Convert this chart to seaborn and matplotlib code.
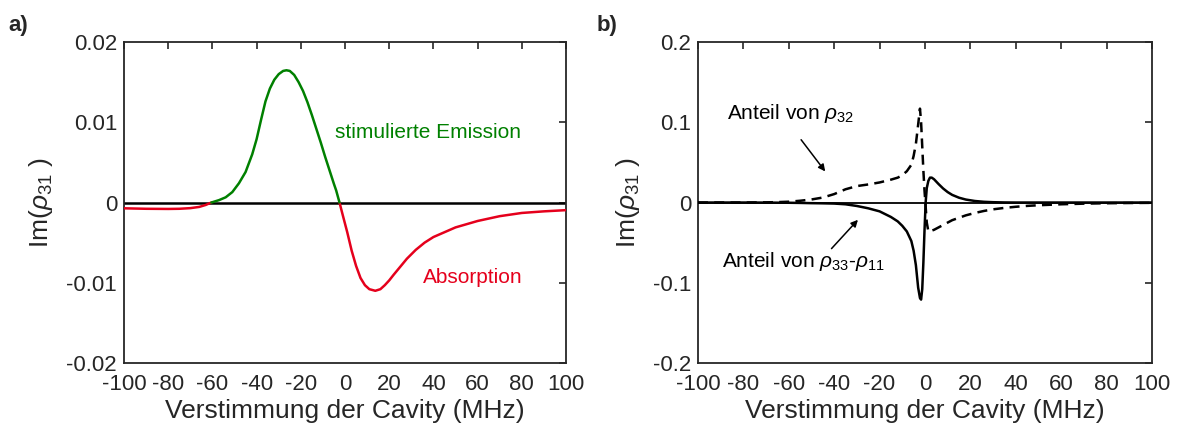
import numpy as np
import pandas as pd
import matplotlib
matplotlib.use("Agg")
import matplotlib.pyplot as plt
import seaborn as sns

# ---------------- data ----------------
# panel a) Im(rho_31) vs. cavity detuning
det_a = [-100, -90, -80, -75, -70, -66, -63, -60.5, -57, -54, -51, -48, -45, -42,
         -40, -38, -36, -34, -32, -30, -28, -26.5, -25, -23, -21, -19, -17, -15,
         -13, -11, -9, -7, -5, -4, -2.5, -1, 1, 3, 5, 7, 9, 11, 13.7, 16, 18, 20,
         22, 25, 28, 32, 36, 40, 45, 50, 55, 60, 65, 70, 80, 90, 100]
im_a = [-0.00072, -0.00078, -0.0008, -0.00078, -0.0007, -0.00055, -0.0003, 0.0,
        0.0003, 0.00065, 0.0013, 0.0024, 0.0038, 0.006, 0.0079, 0.0103, 0.0126,
        0.0142, 0.0153, 0.016, 0.0164, 0.01648, 0.0164, 0.0159, 0.015, 0.0139,
        0.0125, 0.0109, 0.0092, 0.0075, 0.0057, 0.004, 0.0023, 0.0015, 0.0,
        -0.0016, -0.0037, -0.006, -0.0079, -0.0094, -0.0103, -0.0108, -0.011,
        -0.0108, -0.0103, -0.0097, -0.009, -0.008, -0.007, -0.0059, -0.005,
        -0.0043, -0.0037, -0.0031, -0.0027, -0.0023, -0.002, -0.0017, -0.0013,
        -0.0011, -0.00095]

# panel b) contributions of rho_32 and rho_33 - rho_11
det_b = [-100, -90, -80, -70, -65, -60, -55, -50, -45, -40, -35, -30, -25, -20,
         -15, -12, -10, -8, -6, -5, -4, -3, -2.2, -1.7, -1.2, -0.7, -0.2, 0.3,
         0.8, 1.5, 2.2, 3, 4, 6, 8, 10, 12, 15, 18, 22, 26, 30, 35, 40, 45, 50,
         60, 70, 80, 90, 100]
part_rho32 = [0.0, 0.0, 0.0, 0.0002, 0.0005, 0.001, 0.0022, 0.0038, 0.0062,
              0.0105, 0.0165, 0.0205, 0.0225, 0.025, 0.0285, 0.031, 0.034,
              0.039, 0.047, 0.058, 0.073, 0.097, 0.117, 0.1, 0.07, 0.04, 0.015,
              -0.005, -0.025, -0.036, -0.036, -0.035, -0.034, -0.031, -0.028,
              -0.025, -0.022, -0.019, -0.016, -0.013, -0.0105, -0.0085, -0.0067,
              -0.0053, -0.0042, -0.0034, -0.0022, -0.0014, -0.0009, -0.0006,
              -0.0004]
part_pop = [0.0, 0.0, 0.0, -0.0001, -0.0002, -0.0003, -0.0005, -0.0008, -0.001,
            -0.0013, -0.0022, -0.0043, -0.0072, -0.011, -0.018, -0.0235, -0.029,
            -0.036, -0.048, -0.06, -0.078, -0.106, -0.119, -0.121, -0.108,
            -0.075, -0.035, 0.0, 0.018, 0.027, 0.031, 0.031, 0.029, 0.023,
            0.0175, 0.013, 0.0095, 0.006, 0.0037, 0.0019, 0.0009, 0.0004, 0.0001,
            0.0, 0.0, 0.0, 0.0, 0.0, 0.0, 0.0, 0.0]

xticks = [-100, -80, -60, -40, -20, 0, 20, 40, 60, 80, 100]
yticks_a = [-0.02, -0.01, 0, 0.01, 0.02]
ylabels_a = ["-0.02", "-0.01", "0", "0.01", "0.02"]
yticks_b = [-0.2, -0.1, 0, 0.1, 0.2]
ylabels_b = ["-0.2", "-0.1", "0", "0.1", "0.2"]

GREEN = "#008000"
RED = "#E5001C"
INK = "#262626"

# ---------------- style ----------------
sns.set_style("white")
plt.rcParams["font.family"] = ["Liberation Sans", "DejaVu Sans"]
plt.rcParams["mathtext.fontset"] = "custom"
plt.rcParams["mathtext.rm"] = "Liberation Sans"
plt.rcParams["mathtext.it"] = "Liberation Sans:italic"
plt.rcParams["axes.unicode_minus"] = False

fig = plt.figure(figsize=(11.81, 4.32), dpi=100)
ax1 = fig.add_axes([0.105, 0.1597, 0.3743, 0.743])
ax2 = fig.add_axes([0.591, 0.1597, 0.3844, 0.743])

# ---------------- panel a ----------------
df_a = pd.DataFrame({"det": det_a, "im": im_a})
xa = df_a["det"].to_numpy()
masks = {
    "r1": xa <= -60.5,                     # absorption, far red side
    "g": (xa >= -60.5) & (xa <= -2.5),     # stimulated emission lobe
    "r2": xa >= -2.5,                      # absorption lobe
}
parts = []
for name, m in masks.items():
    p = df_a[m].copy()
    p["seg"] = name
    p["sign"] = "neg" if name.startswith("r") else "pos"
    parts.append(p)
df_a_seg = pd.concat(parts, ignore_index=True)

ax1.axhline(0, color="black", lw=1.8, zorder=1)
sns.lineplot(data=df_a_seg, x="det", y="im", hue="sign", units="seg",
             estimator=None, palette={"pos": GREEN, "neg": RED}, lw=1.8,
             legend=False, ax=ax1, zorder=3)

ax1.text(-4.7, 0.00875, "stimulierte Emission", color=GREEN, fontsize=15,
         va="center", ha="left")
ax1.text(35.2, -0.0094, "Absorption", color=RED, fontsize=15,
         va="center", ha="left")

ax1.set_ylim(-0.02, 0.02)
ax1.set_yticks(yticks_a)
ax1.set_yticklabels(ylabels_a)

# ---------------- panel b ----------------
df_b = pd.DataFrame({"det": det_b, "rho32": part_rho32, "pop": part_pop})
ax2.axhline(0, color="black", lw=1.3, zorder=1)
sns.lineplot(data=df_b, x="det", y="rho32", color="black", lw=1.8,
             linestyle=(0, (4, 2.5)), ax=ax2, zorder=3)
sns.lineplot(data=df_b, x="det", y="pop", color="black", lw=1.8, ax=ax2,
             zorder=3)

ax2.text(-87, 0.111, r"Anteil von $\rho_{32}$", fontsize=15, va="center",
         ha="left", color="black")
ax2.text(-89.5, -0.074, r"Anteil von $\rho_{33}$-$\rho_{11}$", fontsize=15,
         va="center", ha="left", color="black")
ax2.annotate("", xy=(-43.2, 0.036), xytext=(-55.3, 0.081),
             arrowprops=dict(arrowstyle="-|>", color="black", lw=1.1,
                             mutation_scale=10))
ax2.annotate("", xy=(-28.7, -0.019), xytext=(-42, -0.06),
             arrowprops=dict(arrowstyle="-|>", color="black", lw=1.1,
                             mutation_scale=10))

ax2.set_ylim(-0.2, 0.2)
ax2.set_yticks(yticks_b)
ax2.set_yticklabels(ylabels_b)

# ---------------- common axis formatting ----------------
for ax in (ax1, ax2):
    ax.set_xlim(-100, 100)
    ax.set_xticks(xticks)
    ax.set_xticklabels([str(t) for t in xticks])
    ax.set_xlabel("Verstimmung der Cavity (MHz)", fontsize=19, color=INK,
                  labelpad=3)
    ax.set_ylabel(r"Im($\rho_{31}$ )", fontsize=19, color=INK, labelpad=8)
    ax.tick_params(axis="both", direction="in", top=True, right=True,
                   length=5, width=1.2, labelsize=16, colors=INK)
    ax.tick_params(axis="x", pad=8)
    ax.tick_params(axis="y", pad=5)
    for s in ax.spines.values():
        s.set_visible(True)
        s.set_color(INK)
        s.set_linewidth(1.3)
    ax.set_facecolor("white")

fig.text(8 / 1181, 1 - 25 / 432, "a)", fontsize=16, fontweight="bold",
         ha="left", va="center")
fig.text(597 / 1181, 1 - 25 / 432, "b)", fontsize=16, fontweight="bold",
         ha="left", va="center")

fig.savefig("out.png", dpi=100, facecolor="white")
